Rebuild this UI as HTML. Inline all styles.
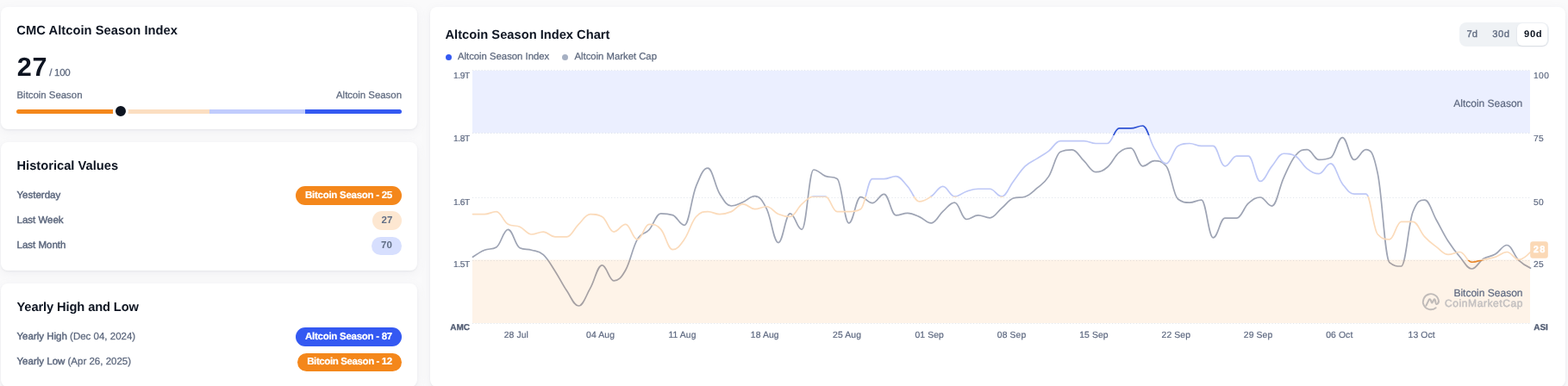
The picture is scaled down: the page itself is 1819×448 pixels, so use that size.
<!DOCTYPE html>
<html lang="en">
<head>
<meta charset="utf-8">
<title>CMC Altcoin Season Index</title>
<style>
*{box-sizing:border-box;margin:0;padding:0}
html,body{width:1819px;height:448px;overflow:hidden;background:#FAFAFB}
body{position:relative;font-family:"Liberation Sans",Arial,sans-serif;color:#0D1421;text-rendering:geometricPrecision}
.card{position:absolute;background:#fff;border-radius:8px;box-shadow:0 1px 2px rgba(128,138,157,.12), 0 3px 12px rgba(128,138,157,.09)}
.t{position:absolute;white-space:nowrap}
.h{font-weight:700;color:#0D1421}
.s{color:#5D687E;-webkit-text-stroke:0.25px #5D687E}
.m{color:#5D687E;-webkit-text-stroke:0.45px #5D687E}
.big{font-weight:700;color:#0D1421}
.bar{position:absolute;left:18px;top:119px;width:447px;height:5px;border-radius:3px;overflow:hidden;display:flex}
.bar i{display:block;height:100%;flex:0 0 25%}
.knob{position:absolute;left:130.0px;top:112.4px;width:18px;height:18px;border-radius:50%;background:#0D1421;border:3px solid #fff}
.badge{position:absolute;border-radius:12px;color:#fff;font-weight:700;-webkit-text-stroke:0.2px currentColor;text-align:center;white-space:nowrap}
.badge.o{background:#F4871B}
.badge.b{background:#3459F2}
.badge.lo{background:#FDE7D1;color:#616E85;-webkit-text-stroke:0}
.badge.lb{background:#D7DFFE;color:#616E85;-webkit-text-stroke:0}
.dot{position:absolute;width:7px;height:7px;border-radius:50%}
.seg{position:absolute;left:1194px;top:18px;width:104px;height:28px;border-radius:8px;background:#EFF2F5}
.seg b,.seg span{position:absolute;white-space:nowrap}
.seg span{-webkit-text-stroke:0.3px currentColor}
.seg .on{position:absolute;left:67px;top:1px;width:35px;height:26px;border-radius:6px;background:#fff;box-shadow:0 1px 2px rgba(88,102,126,.18)}
.plot{position:absolute;left:0;top:0;display:block}
.plot text{font-family:"Liberation Sans",Arial,sans-serif;text-rendering:geometricPrecision}
.plot .ax{fill:#5E6981;stroke:#5E6981;stroke-width:0.2px}
.plot .axb{fill:#505B72;font-weight:700;stroke:#505B72;stroke-width:0.25px}
.plot .zl{fill:#5E6981;stroke:#5E6981;stroke-width:0.2px}
.plot .g{stroke:#E3E7ED;stroke-width:1;stroke-dasharray:1.2 2.3}
</style>
</head>
<body>
<section class="card" style="left:1px;top:8px;width:483px;height:142px">
<span class="t h" style="top:18.41px;font-size:14.7px;line-height:21px;letter-spacing:0.05px;left:18.3px;">CMC Altcoin Season Index</span>
<span class="t big" style="top:49.10px;font-size:30.6px;line-height:43px;letter-spacing:0.85px;left:18.7px;">27</span>
<span class="t s" style="top:69.22px;font-size:11.5px;line-height:16px;letter-spacing:-0.3px;left:56.3px;">/ 100</span>
<span class="t s" style="top:95.15px;font-size:11.4px;line-height:16px;left:18.5px;">Bitcoin Season</span>
<span class="t s" style="top:95.15px;font-size:11.4px;line-height:16px;right:18px;">Altcoin Season</span>
<div class="bar"><i style="background:#F4871B"></i><i style="background:#FBDEC1"></i><i style="background:#C1CCFD"></i><i style="background:#3459F2"></i></div>
<div class="knob"></div>
</section>
<section class="card" style="left:1px;top:165px;width:483px;height:149px">
<span class="t h" style="top:17.51px;font-size:14.7px;line-height:21px;left:18.5px;">Historical Values</span>
<span class="t m" style="top:54.12px;font-size:11.5px;line-height:16px;left:18.5px;">Yesterday</span>
<span class="t m" style="top:83.02px;font-size:11.5px;line-height:16px;left:18.5px;">Last Week</span>
<span class="t m" style="top:112.02px;font-size:11.5px;line-height:16px;left:18.5px;">Last Month</span>
<span class="badge o" style="left:342px;top:51px;width:123px;height:22px;line-height:23.5px;font-size:11.5px;letter-spacing:-0.27px;">Bitcoin Season - 25</span>
<span class="badge lo" style="left:431px;top:80px;width:34px;height:21.5px;line-height:23.0px;font-size:11.5px;">27</span>
<span class="badge lb" style="left:430px;top:109.5px;width:35px;height:21.5px;line-height:21.8px;font-size:11.5px;">70</span>
</section>
<section class="card" style="left:1px;top:329px;width:483px;height:120px">
<span class="t h" style="top:17.71px;font-size:14.7px;line-height:21px;letter-spacing:-0.12px;left:18.5px;">Yearly High and Low</span>
<span class="t s" style="top:54.02px;font-size:11.5px;line-height:16px;left:18.5px;"><span class="m" style="position:static">Yearly High</span> (Dec 04, 2024)</span>
<span class="t s" style="top:83.02px;font-size:11.5px;line-height:16px;left:18.5px;"><span class="m" style="position:static">Yearly Low</span> (Apr 26, 2025)</span>
<span class="badge b" style="left:342px;top:51px;width:123px;height:21.5px;line-height:22.2px;font-size:11.5px;letter-spacing:-0.27px;">Altcoin Season - 87</span>
<span class="badge o" style="left:344px;top:81px;width:121px;height:20.5px;line-height:20.6px;font-size:11.5px;letter-spacing:-0.39px;">Bitcoin Season - 12</span>
</section>
<section class="card" style="left:499px;top:8px;width:1317px;height:441px">
<svg class="plot" width="1317" height="441" viewBox="499 8 1317 441">
<defs>
<clipPath id="z1"><rect x="544" y="301.80" width="1235" height="93.20"/></clipPath>
<clipPath id="z2"><rect x="544" y="227.95" width="1235" height="73.85"/></clipPath>
<clipPath id="z3"><rect x="544" y="157.00" width="1235" height="70.95"/></clipPath>
<clipPath id="z4"><rect x="544" y="62.0" width="1235" height="95.00"/></clipPath>
</defs>
<g class="grid"><line class="g" x1="548" x2="1775" y1="81.50" y2="81.50"/><line class="g" x1="548" x2="1775" y1="154.50" y2="154.50"/><line class="g" x1="548" x2="1775" y1="229.50" y2="229.50"/><line class="g" x1="548" x2="1775" y1="302.50" y2="302.50"/><line class="g" x1="548" x2="1775" y1="375.50" y2="375.50"/></g>
<path d="M548.50 298.30 C548.50 298.30 556.68 292.46 562.13 290.20 C567.59 287.94 570.31 290.20 575.77 287.00 C581.22 283.80 583.95 266.30 589.40 266.30 C594.85 266.30 597.58 285.20 603.03 287.70 C608.49 290.20 611.21 288.62 616.66 290.20 C622.12 291.78 624.84 290.70 630.30 295.60 C635.75 300.50 638.48 306.30 643.93 314.70 C649.38 323.10 652.11 329.54 657.56 337.60 C663.02 345.66 665.74 355.00 671.20 355.00 C676.65 355.00 679.38 343.84 684.83 334.40 C690.28 324.96 693.01 307.80 698.46 307.80 C703.92 307.80 706.64 325.80 712.10 325.80 C717.55 325.80 720.28 323.08 725.73 313.50 C731.18 303.92 733.91 287.24 739.36 277.90 C744.82 268.56 747.54 272.80 753.00 266.80 C758.45 260.80 761.17 247.90 766.63 247.90 C772.08 247.90 774.81 247.90 780.26 249.60 C785.71 251.30 788.44 261.40 793.89 261.40 C799.35 261.40 802.07 229.34 807.53 216.10 C812.98 202.86 815.71 195.20 821.16 195.20 C826.61 195.20 829.34 215.94 834.79 224.70 C840.25 233.46 842.97 239.00 848.43 239.00 C853.88 239.00 856.61 236.76 862.06 234.50 C867.51 232.24 870.24 227.70 875.69 227.70 C881.15 227.70 883.87 231.52 889.33 242.30 C894.78 253.08 897.50 281.60 902.96 281.60 C908.41 281.60 911.14 247.90 916.59 247.90 C922.04 247.90 924.77 266.30 930.22 266.30 C935.68 266.30 938.40 197.00 943.86 197.00 C949.31 197.00 952.04 202.32 957.49 204.40 C962.94 206.48 965.67 204.40 971.12 207.40 C976.58 210.40 979.30 258.90 984.76 258.90 C990.21 258.90 992.94 228.70 998.39 228.70 C1003.84 228.70 1006.57 235.60 1012.02 235.60 C1017.48 235.60 1020.20 225.30 1025.65 225.30 C1031.11 225.30 1033.83 249.80 1039.29 249.80 C1044.74 249.80 1047.47 247.40 1052.92 247.40 C1058.37 247.40 1061.10 249.30 1066.55 251.60 C1072.01 253.90 1074.73 258.90 1080.19 258.90 C1085.64 258.90 1088.37 250.16 1093.82 245.40 C1099.27 240.64 1102.00 235.10 1107.45 235.10 C1112.91 235.10 1115.63 254.50 1121.09 254.50 C1126.54 254.50 1129.27 249.80 1134.72 249.80 C1140.17 249.80 1142.90 252.80 1148.35 252.80 C1153.81 252.80 1156.53 246.26 1161.99 241.70 C1167.44 237.14 1170.16 231.80 1175.62 230.00 C1181.07 228.20 1183.80 230.00 1189.25 228.20 C1194.70 226.40 1197.43 223.06 1202.88 218.40 C1208.34 213.74 1211.06 213.32 1216.52 204.90 C1221.97 196.48 1224.70 178.70 1230.15 176.30 C1235.60 173.90 1238.33 173.90 1243.78 173.90 C1249.24 173.90 1251.96 181.54 1257.42 186.70 C1262.87 191.86 1265.60 199.70 1271.05 199.70 C1276.50 199.70 1279.23 198.58 1284.68 194.00 C1290.14 189.42 1292.86 181.22 1298.32 176.80 C1303.77 172.38 1306.49 171.90 1311.95 171.90 C1317.40 171.90 1320.13 192.80 1325.58 192.80 C1331.03 192.80 1333.76 186.70 1339.21 186.70 C1344.67 186.70 1347.39 186.70 1352.85 192.80 C1358.30 198.90 1361.03 226.90 1366.48 231.00 C1371.93 235.10 1374.66 235.10 1380.11 235.10 C1385.57 235.10 1388.29 232.20 1393.75 232.20 C1399.20 232.20 1401.93 275.90 1407.38 275.90 C1412.83 275.90 1415.56 253.10 1421.01 253.10 C1426.47 253.10 1429.19 253.10 1434.64 253.10 C1440.10 253.10 1442.82 240.72 1448.28 235.90 C1453.73 231.08 1456.46 229.00 1461.91 229.00 C1467.36 229.00 1470.09 239.10 1475.54 239.10 C1481.00 239.10 1483.72 218.02 1489.18 206.30 C1494.63 194.58 1497.36 187.04 1502.81 180.50 C1508.26 173.96 1510.99 173.60 1516.44 173.60 C1521.90 173.60 1524.62 185.40 1530.08 185.40 C1535.53 185.40 1538.26 185.40 1543.71 183.00 C1549.16 180.60 1551.89 159.60 1557.34 159.60 C1562.80 159.60 1565.52 185.40 1570.97 185.40 C1576.43 185.40 1579.15 173.60 1584.61 173.60 C1590.06 173.60 1592.79 175.20 1598.24 201.40 C1603.69 227.60 1606.42 300.20 1611.87 304.60 C1617.33 309.00 1620.05 309.00 1625.51 309.00 C1630.96 309.00 1633.69 259.20 1639.14 245.70 C1644.59 232.20 1647.32 232.20 1652.77 232.20 C1658.23 232.20 1660.95 245.94 1666.41 255.50 C1671.86 265.06 1674.59 271.44 1680.04 280.00 C1685.49 288.56 1688.22 291.90 1693.67 298.30 C1699.13 304.70 1701.85 312.00 1707.30 312.00 C1712.76 312.00 1715.48 303.68 1720.94 300.30 C1726.39 296.92 1729.12 298.26 1734.57 295.10 C1740.02 291.94 1742.75 284.50 1748.20 284.50 C1753.66 284.50 1756.38 296.88 1761.84 302.20 C1767.29 307.52 1775.47 311.10 1775.47 311.10" fill="none" stroke="#9EA4B4" stroke-width="1.7" stroke-linejoin="round" stroke-linecap="round"/>
<rect x="548" y="82.0" width="1227" height="72.40" fill="#3861FB" fill-opacity="0.1"/>
<rect x="548" y="301.5" width="1227" height="73.50" fill="#F68819" fill-opacity="0.1"/>
<text class="zl" x="1766.3" y="123.7" font-size="12" text-anchor="end">Altcoin Season</text>
<text class="zl" x="1766.5" y="343.7" font-size="12" text-anchor="end">Bitcoin Season</text>
<g class="wm" opacity="1">
<g transform="translate(1659.9 350.3) scale(1.0)" fill="none" stroke="#C0BBB9" stroke-width="1.9" stroke-linecap="round" stroke-linejoin="round">
<path d="M5.8 6.9 A9.05 9.05 0 1 1 9.05 -0.3"/>
<path stroke-width="2.1" d="M-5.5 4.3 L-2.3 -2.2 Q-1.1 -4 -0.1 -1.9 L0.9 0.8 Q1.3 1.6 1.8 0.7 L3.3 -2.1 Q4.3 -3.9 5 -2 L5.7 1.4 Q6.3 3.6 7.8 2.2 Q8.8 1.2 9.05 -0.3"/>
</g>
<text x="1767" y="355.7" font-size="12" fill="#C4C1C1" stroke="#C4C1C1" stroke-width="0.5" letter-spacing="0.58" text-anchor="end">CoinMarketCap</text>
</g>
<g fill="none" stroke-width="1.7" stroke-linejoin="round" stroke-linecap="round">
<path d="M548.50 248.56 C548.50 248.56 556.68 248.56 562.13 248.56 C567.59 248.56 570.31 245.63 575.77 245.63 C581.22 245.63 583.95 257.35 589.40 260.28 C594.85 263.21 597.58 260.87 603.03 263.21 C608.49 265.55 611.21 272.00 616.66 272.00 C622.12 272.00 624.84 269.07 630.30 269.07 C635.75 269.07 638.48 274.93 643.93 274.93 C649.38 274.93 652.11 274.93 657.56 274.93 C663.02 274.93 665.74 265.55 671.20 260.28 C676.65 255.01 679.38 248.56 684.83 248.56 C690.28 248.56 693.01 248.56 698.46 251.49 C703.92 254.42 706.64 269.07 712.10 269.07 C717.55 269.07 720.28 260.28 725.73 260.28 C731.18 260.28 733.91 277.86 739.36 277.86 C744.82 277.86 747.54 260.28 753.00 260.28 C758.45 260.28 761.17 260.28 766.63 266.14 C772.08 272.00 774.81 289.58 780.26 289.58 C785.71 289.58 788.44 285.48 793.89 277.86 C799.35 270.24 802.07 257.35 807.53 251.49 C812.98 245.63 815.71 245.63 821.16 245.63 C826.61 245.63 829.34 248.56 834.79 248.56 C840.25 248.56 842.97 247.97 848.43 245.63 C853.88 243.29 856.61 236.84 862.06 236.84 C867.51 236.84 870.24 242.70 875.69 242.70 C881.15 242.70 883.87 239.77 889.33 239.77 C894.78 239.77 897.50 246.22 902.96 248.56 C908.41 250.90 911.14 251.49 916.59 251.49 C922.04 251.49 924.77 241.53 930.22 236.84 C935.68 232.15 938.40 228.05 943.86 228.05 C949.31 228.05 952.04 228.05 957.49 228.05 C962.94 228.05 965.67 245.63 971.12 245.63 C976.58 245.63 979.30 245.63 984.76 245.63 C990.21 245.63 992.94 245.63 998.39 242.70 C1003.84 239.77 1006.57 207.54 1012.02 207.54 C1017.48 207.54 1020.20 207.54 1025.65 207.54 C1031.11 207.54 1033.83 204.61 1039.29 204.61 C1044.74 204.61 1047.47 210.47 1052.92 216.33 C1058.37 222.19 1061.10 233.91 1066.55 233.91 C1072.01 233.91 1074.73 231.57 1080.19 228.05 C1085.64 224.53 1088.37 216.33 1093.82 216.33 C1099.27 216.33 1102.00 228.05 1107.45 228.05 C1112.91 228.05 1115.63 223.95 1121.09 222.19 C1126.54 220.43 1129.27 219.26 1134.72 219.26 C1140.17 219.26 1142.90 219.26 1148.35 219.26 C1153.81 219.26 1156.53 228.05 1161.99 228.05 C1167.44 228.05 1170.16 217.50 1175.62 210.47 C1181.07 203.44 1183.80 198.16 1189.25 192.89 C1194.70 187.62 1197.43 187.62 1202.88 184.10 C1208.34 180.58 1211.06 179.41 1216.52 175.31 C1221.97 171.21 1224.70 163.59 1230.15 163.59 C1235.60 163.59 1238.33 163.59 1243.78 163.59 C1249.24 163.59 1251.96 163.59 1257.42 163.59 C1262.87 163.59 1265.60 166.52 1271.05 166.52 C1276.50 166.52 1279.23 166.52 1284.68 166.52 C1290.14 166.52 1292.86 148.94 1298.32 148.94 C1303.77 148.94 1306.49 148.94 1311.95 148.94 C1317.40 148.94 1320.13 146.01 1325.58 146.01 C1331.03 146.01 1333.76 163.59 1339.21 172.38 C1344.67 181.17 1347.39 189.96 1352.85 189.96 C1358.30 189.96 1361.03 172.38 1366.48 169.45 C1371.93 166.52 1374.66 166.52 1380.11 166.52 C1385.57 166.52 1388.29 169.45 1393.75 169.45 C1399.20 169.45 1401.93 169.45 1407.38 169.45 C1412.83 169.45 1415.56 192.89 1421.01 192.89 C1426.47 192.89 1429.19 181.17 1434.64 181.17 C1440.10 181.17 1442.82 181.17 1448.28 181.17 C1453.73 181.17 1456.46 210.47 1461.91 210.47 C1467.36 210.47 1470.09 199.34 1475.54 192.89 C1481.00 186.44 1483.72 178.24 1489.18 178.24 C1494.63 178.24 1497.36 178.24 1502.81 181.17 C1508.26 184.10 1510.99 191.72 1516.44 195.82 C1521.90 199.92 1524.62 201.68 1530.08 201.68 C1535.53 201.68 1538.26 189.96 1543.71 189.96 C1549.16 189.96 1551.89 206.37 1557.34 213.40 C1562.80 220.43 1565.52 225.12 1570.97 225.12 C1576.43 225.12 1579.15 225.12 1584.61 225.12 C1590.06 225.12 1592.79 266.14 1598.24 272.00 C1603.69 277.86 1606.42 277.86 1611.87 277.86 C1617.33 277.86 1620.05 257.35 1625.51 257.35 C1630.96 257.35 1633.69 257.35 1639.14 257.35 C1644.59 257.35 1647.32 269.07 1652.77 274.93 C1658.23 280.79 1660.95 282.55 1666.41 286.65 C1671.86 290.75 1674.59 295.44 1680.04 295.44 C1685.49 295.44 1688.22 292.51 1693.67 292.51 C1699.13 292.51 1701.85 304.23 1707.30 304.23 C1712.76 304.23 1715.48 302.47 1720.94 301.30 C1726.39 300.13 1729.12 300.13 1734.57 298.37 C1740.02 296.61 1742.75 292.51 1748.20 292.51 C1753.66 292.51 1756.38 301.30 1761.84 301.30 C1767.29 301.30 1775.47 292.51 1775.47 292.51" stroke="#E8862A" clip-path="url(#z1)"/>
<path d="M548.50 248.56 C548.50 248.56 556.68 248.56 562.13 248.56 C567.59 248.56 570.31 245.63 575.77 245.63 C581.22 245.63 583.95 257.35 589.40 260.28 C594.85 263.21 597.58 260.87 603.03 263.21 C608.49 265.55 611.21 272.00 616.66 272.00 C622.12 272.00 624.84 269.07 630.30 269.07 C635.75 269.07 638.48 274.93 643.93 274.93 C649.38 274.93 652.11 274.93 657.56 274.93 C663.02 274.93 665.74 265.55 671.20 260.28 C676.65 255.01 679.38 248.56 684.83 248.56 C690.28 248.56 693.01 248.56 698.46 251.49 C703.92 254.42 706.64 269.07 712.10 269.07 C717.55 269.07 720.28 260.28 725.73 260.28 C731.18 260.28 733.91 277.86 739.36 277.86 C744.82 277.86 747.54 260.28 753.00 260.28 C758.45 260.28 761.17 260.28 766.63 266.14 C772.08 272.00 774.81 289.58 780.26 289.58 C785.71 289.58 788.44 285.48 793.89 277.86 C799.35 270.24 802.07 257.35 807.53 251.49 C812.98 245.63 815.71 245.63 821.16 245.63 C826.61 245.63 829.34 248.56 834.79 248.56 C840.25 248.56 842.97 247.97 848.43 245.63 C853.88 243.29 856.61 236.84 862.06 236.84 C867.51 236.84 870.24 242.70 875.69 242.70 C881.15 242.70 883.87 239.77 889.33 239.77 C894.78 239.77 897.50 246.22 902.96 248.56 C908.41 250.90 911.14 251.49 916.59 251.49 C922.04 251.49 924.77 241.53 930.22 236.84 C935.68 232.15 938.40 228.05 943.86 228.05 C949.31 228.05 952.04 228.05 957.49 228.05 C962.94 228.05 965.67 245.63 971.12 245.63 C976.58 245.63 979.30 245.63 984.76 245.63 C990.21 245.63 992.94 245.63 998.39 242.70 C1003.84 239.77 1006.57 207.54 1012.02 207.54 C1017.48 207.54 1020.20 207.54 1025.65 207.54 C1031.11 207.54 1033.83 204.61 1039.29 204.61 C1044.74 204.61 1047.47 210.47 1052.92 216.33 C1058.37 222.19 1061.10 233.91 1066.55 233.91 C1072.01 233.91 1074.73 231.57 1080.19 228.05 C1085.64 224.53 1088.37 216.33 1093.82 216.33 C1099.27 216.33 1102.00 228.05 1107.45 228.05 C1112.91 228.05 1115.63 223.95 1121.09 222.19 C1126.54 220.43 1129.27 219.26 1134.72 219.26 C1140.17 219.26 1142.90 219.26 1148.35 219.26 C1153.81 219.26 1156.53 228.05 1161.99 228.05 C1167.44 228.05 1170.16 217.50 1175.62 210.47 C1181.07 203.44 1183.80 198.16 1189.25 192.89 C1194.70 187.62 1197.43 187.62 1202.88 184.10 C1208.34 180.58 1211.06 179.41 1216.52 175.31 C1221.97 171.21 1224.70 163.59 1230.15 163.59 C1235.60 163.59 1238.33 163.59 1243.78 163.59 C1249.24 163.59 1251.96 163.59 1257.42 163.59 C1262.87 163.59 1265.60 166.52 1271.05 166.52 C1276.50 166.52 1279.23 166.52 1284.68 166.52 C1290.14 166.52 1292.86 148.94 1298.32 148.94 C1303.77 148.94 1306.49 148.94 1311.95 148.94 C1317.40 148.94 1320.13 146.01 1325.58 146.01 C1331.03 146.01 1333.76 163.59 1339.21 172.38 C1344.67 181.17 1347.39 189.96 1352.85 189.96 C1358.30 189.96 1361.03 172.38 1366.48 169.45 C1371.93 166.52 1374.66 166.52 1380.11 166.52 C1385.57 166.52 1388.29 169.45 1393.75 169.45 C1399.20 169.45 1401.93 169.45 1407.38 169.45 C1412.83 169.45 1415.56 192.89 1421.01 192.89 C1426.47 192.89 1429.19 181.17 1434.64 181.17 C1440.10 181.17 1442.82 181.17 1448.28 181.17 C1453.73 181.17 1456.46 210.47 1461.91 210.47 C1467.36 210.47 1470.09 199.34 1475.54 192.89 C1481.00 186.44 1483.72 178.24 1489.18 178.24 C1494.63 178.24 1497.36 178.24 1502.81 181.17 C1508.26 184.10 1510.99 191.72 1516.44 195.82 C1521.90 199.92 1524.62 201.68 1530.08 201.68 C1535.53 201.68 1538.26 189.96 1543.71 189.96 C1549.16 189.96 1551.89 206.37 1557.34 213.40 C1562.80 220.43 1565.52 225.12 1570.97 225.12 C1576.43 225.12 1579.15 225.12 1584.61 225.12 C1590.06 225.12 1592.79 266.14 1598.24 272.00 C1603.69 277.86 1606.42 277.86 1611.87 277.86 C1617.33 277.86 1620.05 257.35 1625.51 257.35 C1630.96 257.35 1633.69 257.35 1639.14 257.35 C1644.59 257.35 1647.32 269.07 1652.77 274.93 C1658.23 280.79 1660.95 282.55 1666.41 286.65 C1671.86 290.75 1674.59 295.44 1680.04 295.44 C1685.49 295.44 1688.22 292.51 1693.67 292.51 C1699.13 292.51 1701.85 304.23 1707.30 304.23 C1712.76 304.23 1715.48 302.47 1720.94 301.30 C1726.39 300.13 1729.12 300.13 1734.57 298.37 C1740.02 296.61 1742.75 292.51 1748.20 292.51 C1753.66 292.51 1756.38 301.30 1761.84 301.30 C1767.29 301.30 1775.47 292.51 1775.47 292.51" stroke="#FBDBBB" clip-path="url(#z2)"/>
<path d="M548.50 248.56 C548.50 248.56 556.68 248.56 562.13 248.56 C567.59 248.56 570.31 245.63 575.77 245.63 C581.22 245.63 583.95 257.35 589.40 260.28 C594.85 263.21 597.58 260.87 603.03 263.21 C608.49 265.55 611.21 272.00 616.66 272.00 C622.12 272.00 624.84 269.07 630.30 269.07 C635.75 269.07 638.48 274.93 643.93 274.93 C649.38 274.93 652.11 274.93 657.56 274.93 C663.02 274.93 665.74 265.55 671.20 260.28 C676.65 255.01 679.38 248.56 684.83 248.56 C690.28 248.56 693.01 248.56 698.46 251.49 C703.92 254.42 706.64 269.07 712.10 269.07 C717.55 269.07 720.28 260.28 725.73 260.28 C731.18 260.28 733.91 277.86 739.36 277.86 C744.82 277.86 747.54 260.28 753.00 260.28 C758.45 260.28 761.17 260.28 766.63 266.14 C772.08 272.00 774.81 289.58 780.26 289.58 C785.71 289.58 788.44 285.48 793.89 277.86 C799.35 270.24 802.07 257.35 807.53 251.49 C812.98 245.63 815.71 245.63 821.16 245.63 C826.61 245.63 829.34 248.56 834.79 248.56 C840.25 248.56 842.97 247.97 848.43 245.63 C853.88 243.29 856.61 236.84 862.06 236.84 C867.51 236.84 870.24 242.70 875.69 242.70 C881.15 242.70 883.87 239.77 889.33 239.77 C894.78 239.77 897.50 246.22 902.96 248.56 C908.41 250.90 911.14 251.49 916.59 251.49 C922.04 251.49 924.77 241.53 930.22 236.84 C935.68 232.15 938.40 228.05 943.86 228.05 C949.31 228.05 952.04 228.05 957.49 228.05 C962.94 228.05 965.67 245.63 971.12 245.63 C976.58 245.63 979.30 245.63 984.76 245.63 C990.21 245.63 992.94 245.63 998.39 242.70 C1003.84 239.77 1006.57 207.54 1012.02 207.54 C1017.48 207.54 1020.20 207.54 1025.65 207.54 C1031.11 207.54 1033.83 204.61 1039.29 204.61 C1044.74 204.61 1047.47 210.47 1052.92 216.33 C1058.37 222.19 1061.10 233.91 1066.55 233.91 C1072.01 233.91 1074.73 231.57 1080.19 228.05 C1085.64 224.53 1088.37 216.33 1093.82 216.33 C1099.27 216.33 1102.00 228.05 1107.45 228.05 C1112.91 228.05 1115.63 223.95 1121.09 222.19 C1126.54 220.43 1129.27 219.26 1134.72 219.26 C1140.17 219.26 1142.90 219.26 1148.35 219.26 C1153.81 219.26 1156.53 228.05 1161.99 228.05 C1167.44 228.05 1170.16 217.50 1175.62 210.47 C1181.07 203.44 1183.80 198.16 1189.25 192.89 C1194.70 187.62 1197.43 187.62 1202.88 184.10 C1208.34 180.58 1211.06 179.41 1216.52 175.31 C1221.97 171.21 1224.70 163.59 1230.15 163.59 C1235.60 163.59 1238.33 163.59 1243.78 163.59 C1249.24 163.59 1251.96 163.59 1257.42 163.59 C1262.87 163.59 1265.60 166.52 1271.05 166.52 C1276.50 166.52 1279.23 166.52 1284.68 166.52 C1290.14 166.52 1292.86 148.94 1298.32 148.94 C1303.77 148.94 1306.49 148.94 1311.95 148.94 C1317.40 148.94 1320.13 146.01 1325.58 146.01 C1331.03 146.01 1333.76 163.59 1339.21 172.38 C1344.67 181.17 1347.39 189.96 1352.85 189.96 C1358.30 189.96 1361.03 172.38 1366.48 169.45 C1371.93 166.52 1374.66 166.52 1380.11 166.52 C1385.57 166.52 1388.29 169.45 1393.75 169.45 C1399.20 169.45 1401.93 169.45 1407.38 169.45 C1412.83 169.45 1415.56 192.89 1421.01 192.89 C1426.47 192.89 1429.19 181.17 1434.64 181.17 C1440.10 181.17 1442.82 181.17 1448.28 181.17 C1453.73 181.17 1456.46 210.47 1461.91 210.47 C1467.36 210.47 1470.09 199.34 1475.54 192.89 C1481.00 186.44 1483.72 178.24 1489.18 178.24 C1494.63 178.24 1497.36 178.24 1502.81 181.17 C1508.26 184.10 1510.99 191.72 1516.44 195.82 C1521.90 199.92 1524.62 201.68 1530.08 201.68 C1535.53 201.68 1538.26 189.96 1543.71 189.96 C1549.16 189.96 1551.89 206.37 1557.34 213.40 C1562.80 220.43 1565.52 225.12 1570.97 225.12 C1576.43 225.12 1579.15 225.12 1584.61 225.12 C1590.06 225.12 1592.79 266.14 1598.24 272.00 C1603.69 277.86 1606.42 277.86 1611.87 277.86 C1617.33 277.86 1620.05 257.35 1625.51 257.35 C1630.96 257.35 1633.69 257.35 1639.14 257.35 C1644.59 257.35 1647.32 269.07 1652.77 274.93 C1658.23 280.79 1660.95 282.55 1666.41 286.65 C1671.86 290.75 1674.59 295.44 1680.04 295.44 C1685.49 295.44 1688.22 292.51 1693.67 292.51 C1699.13 292.51 1701.85 304.23 1707.30 304.23 C1712.76 304.23 1715.48 302.47 1720.94 301.30 C1726.39 300.13 1729.12 300.13 1734.57 298.37 C1740.02 296.61 1742.75 292.51 1748.20 292.51 C1753.66 292.51 1756.38 301.30 1761.84 301.30 C1767.29 301.30 1775.47 292.51 1775.47 292.51" stroke="#BEC8F6" clip-path="url(#z3)"/>
<path d="M548.50 248.56 C548.50 248.56 556.68 248.56 562.13 248.56 C567.59 248.56 570.31 245.63 575.77 245.63 C581.22 245.63 583.95 257.35 589.40 260.28 C594.85 263.21 597.58 260.87 603.03 263.21 C608.49 265.55 611.21 272.00 616.66 272.00 C622.12 272.00 624.84 269.07 630.30 269.07 C635.75 269.07 638.48 274.93 643.93 274.93 C649.38 274.93 652.11 274.93 657.56 274.93 C663.02 274.93 665.74 265.55 671.20 260.28 C676.65 255.01 679.38 248.56 684.83 248.56 C690.28 248.56 693.01 248.56 698.46 251.49 C703.92 254.42 706.64 269.07 712.10 269.07 C717.55 269.07 720.28 260.28 725.73 260.28 C731.18 260.28 733.91 277.86 739.36 277.86 C744.82 277.86 747.54 260.28 753.00 260.28 C758.45 260.28 761.17 260.28 766.63 266.14 C772.08 272.00 774.81 289.58 780.26 289.58 C785.71 289.58 788.44 285.48 793.89 277.86 C799.35 270.24 802.07 257.35 807.53 251.49 C812.98 245.63 815.71 245.63 821.16 245.63 C826.61 245.63 829.34 248.56 834.79 248.56 C840.25 248.56 842.97 247.97 848.43 245.63 C853.88 243.29 856.61 236.84 862.06 236.84 C867.51 236.84 870.24 242.70 875.69 242.70 C881.15 242.70 883.87 239.77 889.33 239.77 C894.78 239.77 897.50 246.22 902.96 248.56 C908.41 250.90 911.14 251.49 916.59 251.49 C922.04 251.49 924.77 241.53 930.22 236.84 C935.68 232.15 938.40 228.05 943.86 228.05 C949.31 228.05 952.04 228.05 957.49 228.05 C962.94 228.05 965.67 245.63 971.12 245.63 C976.58 245.63 979.30 245.63 984.76 245.63 C990.21 245.63 992.94 245.63 998.39 242.70 C1003.84 239.77 1006.57 207.54 1012.02 207.54 C1017.48 207.54 1020.20 207.54 1025.65 207.54 C1031.11 207.54 1033.83 204.61 1039.29 204.61 C1044.74 204.61 1047.47 210.47 1052.92 216.33 C1058.37 222.19 1061.10 233.91 1066.55 233.91 C1072.01 233.91 1074.73 231.57 1080.19 228.05 C1085.64 224.53 1088.37 216.33 1093.82 216.33 C1099.27 216.33 1102.00 228.05 1107.45 228.05 C1112.91 228.05 1115.63 223.95 1121.09 222.19 C1126.54 220.43 1129.27 219.26 1134.72 219.26 C1140.17 219.26 1142.90 219.26 1148.35 219.26 C1153.81 219.26 1156.53 228.05 1161.99 228.05 C1167.44 228.05 1170.16 217.50 1175.62 210.47 C1181.07 203.44 1183.80 198.16 1189.25 192.89 C1194.70 187.62 1197.43 187.62 1202.88 184.10 C1208.34 180.58 1211.06 179.41 1216.52 175.31 C1221.97 171.21 1224.70 163.59 1230.15 163.59 C1235.60 163.59 1238.33 163.59 1243.78 163.59 C1249.24 163.59 1251.96 163.59 1257.42 163.59 C1262.87 163.59 1265.60 166.52 1271.05 166.52 C1276.50 166.52 1279.23 166.52 1284.68 166.52 C1290.14 166.52 1292.86 148.94 1298.32 148.94 C1303.77 148.94 1306.49 148.94 1311.95 148.94 C1317.40 148.94 1320.13 146.01 1325.58 146.01 C1331.03 146.01 1333.76 163.59 1339.21 172.38 C1344.67 181.17 1347.39 189.96 1352.85 189.96 C1358.30 189.96 1361.03 172.38 1366.48 169.45 C1371.93 166.52 1374.66 166.52 1380.11 166.52 C1385.57 166.52 1388.29 169.45 1393.75 169.45 C1399.20 169.45 1401.93 169.45 1407.38 169.45 C1412.83 169.45 1415.56 192.89 1421.01 192.89 C1426.47 192.89 1429.19 181.17 1434.64 181.17 C1440.10 181.17 1442.82 181.17 1448.28 181.17 C1453.73 181.17 1456.46 210.47 1461.91 210.47 C1467.36 210.47 1470.09 199.34 1475.54 192.89 C1481.00 186.44 1483.72 178.24 1489.18 178.24 C1494.63 178.24 1497.36 178.24 1502.81 181.17 C1508.26 184.10 1510.99 191.72 1516.44 195.82 C1521.90 199.92 1524.62 201.68 1530.08 201.68 C1535.53 201.68 1538.26 189.96 1543.71 189.96 C1549.16 189.96 1551.89 206.37 1557.34 213.40 C1562.80 220.43 1565.52 225.12 1570.97 225.12 C1576.43 225.12 1579.15 225.12 1584.61 225.12 C1590.06 225.12 1592.79 266.14 1598.24 272.00 C1603.69 277.86 1606.42 277.86 1611.87 277.86 C1617.33 277.86 1620.05 257.35 1625.51 257.35 C1630.96 257.35 1633.69 257.35 1639.14 257.35 C1644.59 257.35 1647.32 269.07 1652.77 274.93 C1658.23 280.79 1660.95 282.55 1666.41 286.65 C1671.86 290.75 1674.59 295.44 1680.04 295.44 C1685.49 295.44 1688.22 292.51 1693.67 292.51 C1699.13 292.51 1701.85 304.23 1707.30 304.23 C1712.76 304.23 1715.48 302.47 1720.94 301.30 C1726.39 300.13 1729.12 300.13 1734.57 298.37 C1740.02 296.61 1742.75 292.51 1748.20 292.51 C1753.66 292.51 1756.38 301.30 1761.84 301.30 C1767.29 301.30 1775.47 292.51 1775.47 292.51" stroke="#2E52D4" clip-path="url(#z4)"/>
</g>
<text class="ax" x="544.8" y="91.0" font-size="10.2" text-anchor="end" letter-spacing="-0.4">1.9T</text><text class="ax" x="1779" y="91.0" font-size="10.2" letter-spacing="0.4">100</text><text class="ax" x="544.8" y="164.0" font-size="10.2" text-anchor="end" letter-spacing="-0.4">1.8T</text><text class="ax" x="1779" y="164.0" font-size="10.2" letter-spacing="0.4">75</text><text class="ax" x="544.8" y="238.0" font-size="10.2" text-anchor="end" letter-spacing="-0.4">1.6T</text><text class="ax" x="1779" y="238.0" font-size="10.2" letter-spacing="0.4">50</text><text class="ax" x="544.8" y="310.4" font-size="10.2" text-anchor="end" letter-spacing="-0.4">1.5T</text><text class="ax" x="1779" y="310.4" font-size="10.2" letter-spacing="0.4">25</text>
<text class="ax" x="584.70" y="392.3" font-size="10.4" letter-spacing="0.1">28 Jul</text><text class="ax" x="680.05" y="392.3" font-size="10.4" letter-spacing="0.1">04 Aug</text><text class="ax" x="775.40" y="392.3" font-size="10.4" letter-spacing="0.1">11 Aug</text><text class="ax" x="870.75" y="392.3" font-size="10.4" letter-spacing="0.1">18 Aug</text><text class="ax" x="966.10" y="392.3" font-size="10.4" letter-spacing="0.1">25 Aug</text><text class="ax" x="1061.45" y="392.3" font-size="10.4" letter-spacing="0.1">01 Sep</text><text class="ax" x="1156.80" y="392.3" font-size="10.4" letter-spacing="0.1">08 Sep</text><text class="ax" x="1252.15" y="392.3" font-size="10.4" letter-spacing="0.1">15 Sep</text><text class="ax" x="1347.50" y="392.3" font-size="10.4" letter-spacing="0.1">22 Sep</text><text class="ax" x="1442.85" y="392.3" font-size="10.4" letter-spacing="0.1">29 Sep</text><text class="ax" x="1538.20" y="392.3" font-size="10.4" letter-spacing="0.1">06 Oct</text><text class="ax" x="1633.55" y="392.3" font-size="10.4" letter-spacing="0.1">13 Oct</text>
<text class="axb" x="545.1" y="382.5" font-size="10" text-anchor="end">AMC</text>
<text class="axb" x="1779.2" y="382.5" font-size="10">ASI</text>
<rect x="1775.2" y="280.3" width="20.6" height="19.4" rx="3" fill="#FBD9B6"/>
<text x="1786.15" y="292.9" font-size="11" font-weight="700" fill="#fff" stroke="#fff" stroke-width="0.4" text-anchor="middle" letter-spacing="1.3">28</text>
</svg>
<span class="t h" style="top:23.41px;font-size:14.7px;line-height:21px;left:17.5px;">Altcoin Season Index Chart</span>
<i class="dot" style="left:18px;top:55px;background:#3459F2"></i>
<span class="t s" style="top:50.08px;font-size:11.3px;line-height:16px;left:32px;">Altcoin Season Index</span>
<i class="dot" style="left:153px;top:55px;background:#A6B0C3"></i>
<span class="t s" style="top:50.08px;font-size:11.3px;line-height:16px;left:167.5px;">Altcoin Market Cap</span>
<div class="seg"><div class="on"></div><span style="left:8.6px;top:5.62px;font-size:11.2px;line-height:16px;color:#5D687E;letter-spacing:0px">7d</span><span style="left:38.3px;top:5.62px;font-size:11.2px;line-height:16px;color:#5D687E;letter-spacing:0.5px">30d</span><b style="left:75px;top:5.62px;font-size:11.2px;line-height:16px;color:#0D1421;letter-spacing:0.7px">90d</b></div>
</section>
</body>
</html>
